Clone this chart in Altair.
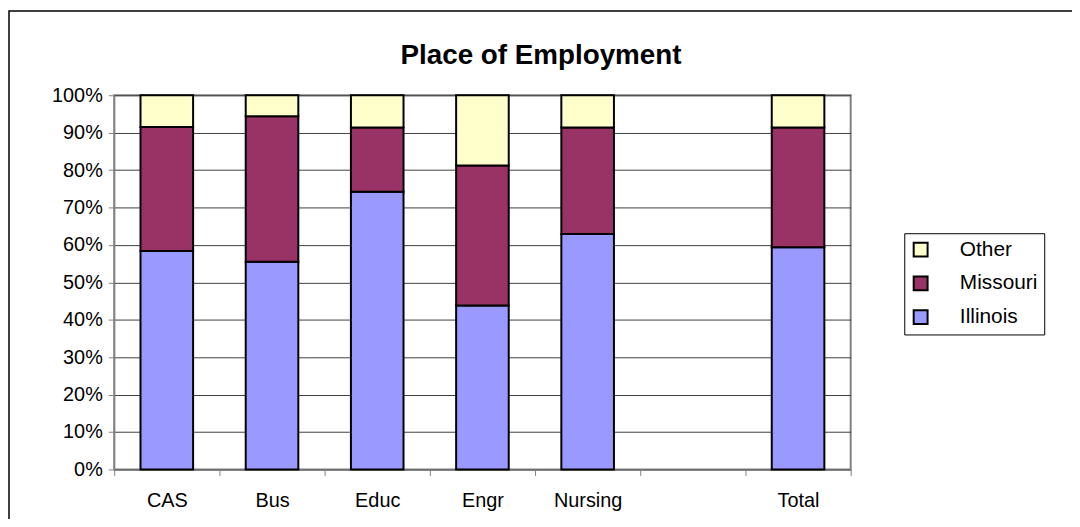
import altair as alt
import pandas as pd

categories = ["CAS", "Bus", "Educ", "Engr", "Nursing", " ", "Total"]
bar_categories = ["CAS", "Bus", "Educ", "Engr", "Nursing", "Total"]
illinois = [58.4, 55.5, 74.2, 43.8, 62.9, 59.4]
missouri = [33.1, 38.9, 17.2, 37.4, 28.5, 32.0]
other = [8.5, 5.6, 8.6, 18.8, 8.6, 8.6]
series = ["Other", "Missouri", "Illinois"]
colors = ["#FFFFCC", "#993366", "#9999FF"]
title_text = "Place of Employment"

rows = []
for i, c in enumerate(bar_categories):
    rows.append({"cat": c, "series": "Illinois", "val": illinois[i], "ord": 0})
    rows.append({"cat": c, "series": "Missouri", "val": missouri[i], "ord": 1})
    rows.append({"cat": c, "series": "Other", "val": other[i], "ord": 2})
df = pd.DataFrame(rows)

FONT = "Liberation Sans"

bars = alt.Chart(df).mark_bar(
    width=alt.RelativeBandSize(0.5), stroke="black", strokeWidth=2
).encode(
    x=alt.X("cat:N", scale=alt.Scale(domain=categories, paddingInner=0, paddingOuter=0),
            sort=categories,
            axis=alt.Axis(title=None, labelAngle=0, tickBand="extent", tickSize=6,
                          tickColor="#808080", domainColor="#808080", labelPadding=15,
                          labelFontSize=20, labelFont=FONT, labelColor="black", grid=False)),
    y=alt.Y("val:Q", stack="normalize",
            scale=alt.Scale(domain=[0, 1]),
            axis=alt.Axis(title=None, format=".0%", values=[i / 10 for i in range(11)],
                          tickSize=6, tickColor="#808080", domainColor="#808080",
                          labelFontSize=20, labelFont=FONT, labelColor="black",
                          labelPadding=6, grid=True, gridColor="#404040", gridWidth=1)),
    color=alt.Color("series:N", scale=alt.Scale(domain=series, range=colors),
                    legend=alt.Legend(title=None, orient="none", legendX=796, legendY=139,
                                      symbolType="square", symbolSize=196,
                                      symbolStrokeColor="black", symbolStrokeWidth=2,
                                      labelFontSize=21, labelFont=FONT, labelColor="black",
                                      rowPadding=11, labelOffset=29,
                                      strokeColor="black", fillColor="white",
                                      padding=6, offset=0)),
    order=alt.Order("ord:Q"),
)

border = alt.Chart(pd.DataFrame({"a": [0]})).mark_rect(
    fill=None, stroke="black", strokeWidth=1.5
).encode(
    x=alt.value(-106), y=alt.value(-85), x2=alt.value(1200), y2=alt.value(600)
)

title = alt.Chart(pd.DataFrame({"t": [title_text]})).mark_text(
    font=FONT, fontSize=28, fontWeight="bold", color="black",
    align="center", baseline="alphabetic"
).encode(
    text="t:N", x=alt.value(430), y=alt.value(-32)
)

chart = alt.layer(bars, border, title).properties(
    width=742, height=377,
    autosize=alt.AutoSizeParams(type="none"),
    padding={"left": 107, "top": 86, "right": 223, "bottom": 48},
).configure_view(stroke="#808080", strokeWidth=2)

chart.save("out.html", embed_options={"renderer": "svg", "actions": False})
